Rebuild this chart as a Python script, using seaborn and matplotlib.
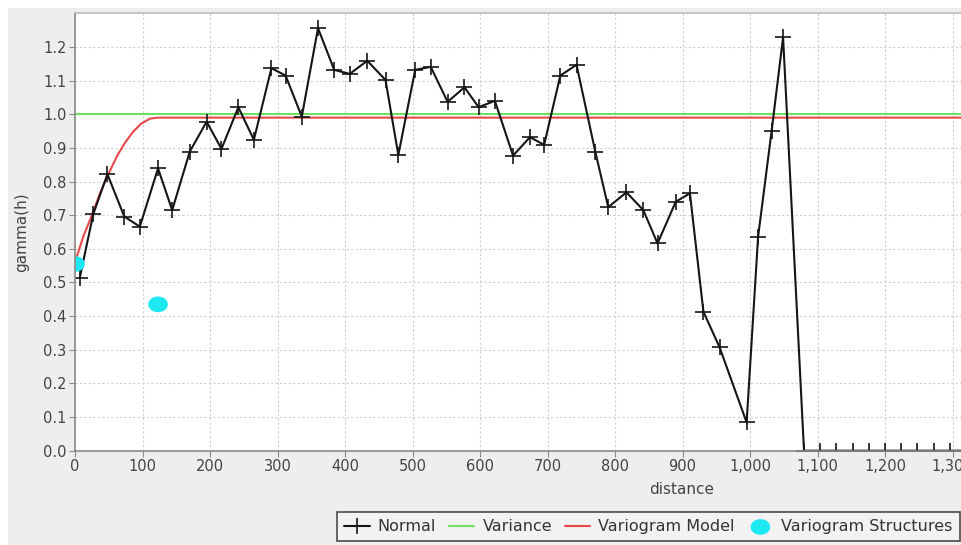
import matplotlib
matplotlib.use("Agg")
import matplotlib.pyplot as plt
import matplotlib.ticker as mticker
from matplotlib.patches import Rectangle
from matplotlib.path import Path
import numpy as np
import pandas as pd
import seaborn as sns

# ---- data ----
lag_distance = [7, 27, 48, 73, 96, 123, 144, 170, 195, 217, 242, 265, 291, 312, 336,
                360, 384, 407, 433, 460, 479, 504, 527, 552, 577, 598, 622, 649, 674,
                695, 719, 743, 771, 790, 817, 842, 863, 890, 911, 931, 955, 995, 1012,
                1032, 1049, 1080, 1104, 1128, 1152, 1176, 1200, 1224, 1248, 1272, 1296, 1320]
gamma_normal = [0.513, 0.703, 0.822, 0.696, 0.666, 0.839, 0.715, 0.889, 0.978, 0.897,
                1.021, 0.924, 1.137, 1.115, 0.993, 1.256, 1.132, 1.120, 1.159, 1.102,
                0.879, 1.132, 1.141, 1.037, 1.080, 1.021, 1.040, 0.877, 0.932, 0.909,
                1.115, 1.147, 0.887, 0.724, 0.768, 0.715, 0.616, 0.740, 0.765, 0.413,
                0.307, 0.084, 0.636, 0.950, 1.229, 0.0, 0.0, 0.0, 0.0, 0.0, 0.0, 0.0,
                0.0, 0.0, 0.0, 0.0]

variance_value = 1.0

model_distance = [0, 12, 25, 37, 49, 62, 74, 86, 98, 111, 123, 1400]
model_gamma = [0.56, 0.635, 0.70, 0.765, 0.82, 0.875, 0.915, 0.948, 0.972, 0.987, 0.99, 0.99]

struct_distance = [0, 123]
struct_gamma = [0.555, 0.435]

x_ticks = [0, 100, 200, 300, 400, 500, 600, 700, 800, 900, 1000, 1100, 1200, 1300]
y_ticks = [0.0, 0.1, 0.2, 0.3, 0.4, 0.5, 0.6, 0.7, 0.8, 0.9, 1.0, 1.1, 1.2]

# ---- figure ----
sns.set_theme(style="white")
plt.rcParams['font.family'] = ['DejaVu Sans']

W, H = 962, 545
fig = plt.figure(figsize=(W / 100, H / 100), dpi=100)
fig.patch.set_facecolor("white")
fig.patches.append(Rectangle((8 / W, 0), 1, 1 - 8 / H, transform=fig.transFigure,
                             facecolor="#eeeeee", edgecolor="none", zorder=-10))

left_px, bottom_px, top_px = 75, 450.7, 13
ax = fig.add_axes([left_px / W, (H - bottom_px) / H, 1 - left_px / W, (bottom_px - top_px) / H])
ax.set_facecolor("white")

normal_df = pd.DataFrame({"distance": lag_distance, "gamma": gamma_normal})
model_df = pd.DataFrame({"distance": model_distance, "gamma": model_gamma})
struct_df = pd.DataFrame({"distance": struct_distance, "gamma": struct_gamma})

sns.lineplot(data=model_df, x="distance", y="gamma", ax=ax, color="#e8474a",
             linewidth=1.5, sort=False, estimator=None, zorder=3, label="Variogram Model")
ax.axhline(variance_value, color="#6ee05e", linewidth=1.5, zorder=2, label="Variance")
sns.lineplot(data=normal_df, x="distance", y="gamma", ax=ax, color="#151515",
             linewidth=1.5, marker="+", markersize=11, markeredgewidth=1.2,
             markeredgecolor="#151515", sort=False, estimator=None, zorder=4, label="Normal")

t = np.linspace(0, 2 * np.pi, 60)
ell = Path(np.column_stack([1.25 * np.cos(t), np.sin(t)]))
sns.scatterplot(data=struct_df, x="distance", y="gamma", ax=ax, color="#1ee8f2",
                marker=ell, s=200, edgecolor="none", zorder=5, label="Variogram Structures")

ax.set_xlim(0, (W - left_px) / 0.675)
ax.set_ylim(0, 1.301)
ax.set_xticks(x_ticks)
ax.set_yticks(y_ticks)
ax.xaxis.set_major_formatter(mticker.FuncFormatter(lambda v, p: f"{v:,.0f}"))
ax.yaxis.set_major_formatter(mticker.FuncFormatter(lambda v, p: f"{v:.1f}"))

ax.grid(True, color="#cfcfcf", linestyle=(0, (2, 2)), linewidth=0.8)
ax.set_axisbelow(True)
for side in ["left", "bottom", "top"]:
    ax.spines[side].set_color("#8a8a8a")
    ax.spines[side].set_linewidth(1.2)
    ax.spines[side].set_zorder(6)
ax.spines["top"].set_color("#bbbbbb")
ax.spines["right"].set_visible(False)
ax.tick_params(axis="both", which="major", direction="out", length=4, width=0.8,
               color="#8a8a8a", labelsize=10.5, labelcolor="#444444", pad=2,
               bottom=True, left=True)

ax.set_xlabel("distance", fontsize=11, color="#444444")
ax.set_ylabel("gamma(h)", fontsize=11, color="#444444")
ax.xaxis.set_label_coords((682 - left_px) / (W - left_px), -(490 - bottom_px) / (bottom_px - top_px))
ax.xaxis.label.set_va("center")
ax.yaxis.set_label_coords(-(left_px - 22) / (W - left_px), 0.5)
ax.yaxis.label.set_va("center")

handles, labels = ax.get_legend_handles_labels()
order = ["Normal", "Variance", "Variogram Model", "Variogram Structures"]
hmap = dict(zip(labels, handles))
ax.get_legend().remove()
leg = fig.legend([hmap[k] for k in order], order, loc="upper left",
                 bbox_to_anchor=(337 / W, 1 - 512 / H), ncol=4, frameon=True,
                 fontsize=11.5, borderaxespad=0, handlelength=1.6, handletextpad=0.5,
                 columnspacing=0.8, borderpad=0.45, fancybox=False)
leg.get_frame().set_edgecolor("#222222")
leg.get_frame().set_linewidth(1.2)
leg.get_frame().set_facecolor("#f4f4f4")
for txt in leg.get_texts():
    txt.set_color("#333333")

fig.savefig("out.png", dpi=100, facecolor=fig.get_facecolor())
